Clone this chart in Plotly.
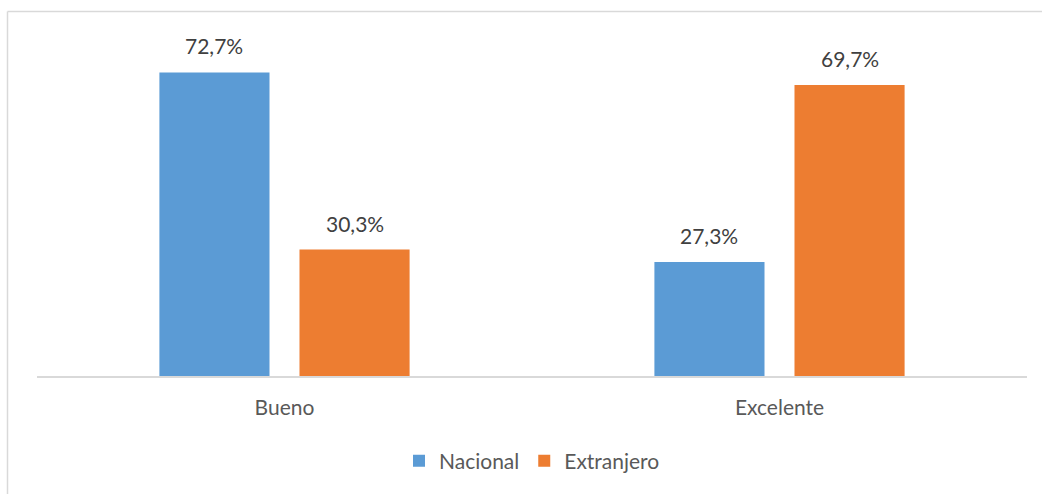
import plotly.graph_objects as go

categories = ["Bueno", "Excelente"]
nacional = [72.7, 27.3]
extranjero = [30.3, 69.7]
series_names = ["Nacional", "Extranjero"]
colors = ["#5B9BD5", "#ED7D31"]

W, H = 1042, 494
ml, mr, mt, mb = 37, 15, 42, 118

fig = go.Figure()
for name, vals, col in zip(series_names, [nacional, extranjero], colors):
    fig.add_trace(go.Bar(name=name, x=categories, y=vals, marker_color=col,
                         marker_line_width=0, hoverinfo="skip"))

# data labels
pw = W - ml - mr
slot = pw / len(categories) * (1 - 0.434) / 2
for i, (name, vals) in enumerate(zip(series_names, [nacional, extranjero])):
    off = (i - 0.5) * slot
    for c, v in zip(categories, vals):
        fig.add_annotation(x=c, y=v, text=f"{v:.1f}%".replace(".", ","),
                           showarrow=False, xshift=off, yanchor="bottom", yshift=12,
                           font=dict(family="Lato", size=21, color="#404040"))

ph = H - mt - mb
def px_x(x):
    return (x - ml) / pw
def px_y(y):
    return (H - mb - y) / ph

line = dict(color="#D9D9D9", width=1.5)
fig.add_shape(type="line", xref="paper", yref="paper", x0=px_x(7.5), x1=px_x(1045),
              y0=px_y(11.5), y1=px_y(11.5), line=line)
fig.add_shape(type="line", xref="paper", yref="paper", x0=px_x(7.5), x1=px_x(7.5),
              y0=px_y(11.5), y1=px_y(500), line=line)

fig.update_layout(
    width=W, height=H,
    margin=dict(l=ml, r=mr, t=mt, b=mb),
    paper_bgcolor="white", plot_bgcolor="white",
    barmode="group", bargap=0.434, bargroupgap=0.214,
    font=dict(family="Lato", color="#595959", size=21),
    xaxis=dict(showline=True, linecolor="#D9D9D9", linewidth=1.5, ticks="",
               ticklabelstandoff=12,
               tickfont=dict(size=21, color="#595959"), showgrid=False),
    yaxis=dict(range=[0, 80], visible=False, showgrid=False),
    legend=dict(orientation="h", x=0.5, xanchor="center", y=px_y(461), yanchor="middle",
                font=dict(size=21, color="#595959"), itemwidth=30),
    showlegend=True,
)
fig.write_html("out.html", config={"displayModeBar": False},
               post_script="document.body.style.margin='0';")
